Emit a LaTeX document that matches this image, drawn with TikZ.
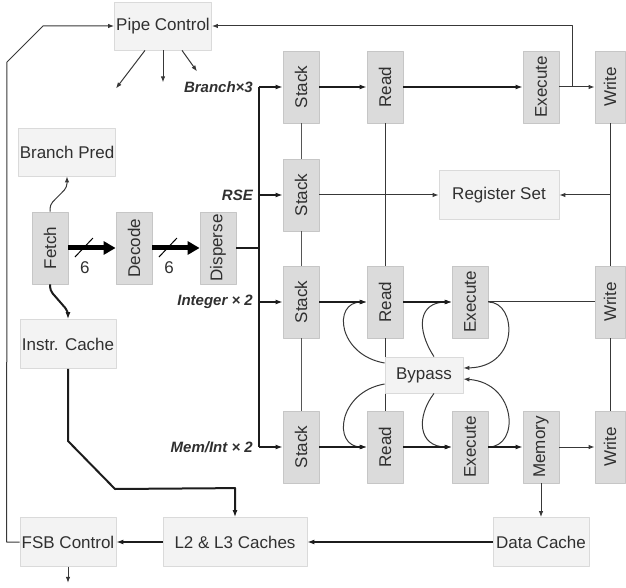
\documentclass[tikz,border=0pt]{standalone}
\usepackage{fontspec}
\usepackage{graphicx}
\setmainfont{Liberation Sans}
\usetikzlibrary{arrows.meta}
\definecolor{stagefill}{HTML}{DBDBDB}
\definecolor{stageline}{HTML}{C6C6C6}
\definecolor{lightfill}{HTML}{F3F3F3}
\definecolor{lightline}{HTML}{DADADA}
\definecolor{textgray}{HTML}{303030}
\definecolor{linedark}{HTML}{1C1C1C}
\definecolor{linegray}{HTML}{383838}
\newcommand{\stagefont}{\fontsize{17}{20}\selectfont}
\newcommand{\buslabelfont}{\fontsize{15}{18}\selectfont\bfseries\itshape}
\newcommand{\vlabel}[1]{\rotatebox{90}{#1}}
\begin{document}
\begin{tikzpicture}[x=1pt, y=1pt, line join=round,
    lightbox/.style={draw=lightline, fill=lightfill, line width=0.8pt, minimum width=96,
      minimum height=49, inner sep=1pt, text=textgray, font=\stagefont},
    stage/.style={draw=stageline, fill=stagefill, line width=0.8pt, minimum width=36,
      minimum height=72, inner sep=0pt, text=textgray, font=\stagefont},
    buslabel/.style={anchor=east, inner sep=0pt, text=textgray, font=\buslabelfont},
    countlabel/.style={inner sep=0pt, text=textgray, font=\stagefont},
    thinarrow/.style={draw=linegray, line width=1pt, -{Latex[length=6pt,width=4.5pt]}},
    thickarrow/.style={draw=linedark, line width=2pt, -{Latex[length=7pt,width=5pt]}},
    thinline/.style={draw=linegray, line width=1pt},
    colline/.style={draw=linegray!85, line width=1pt},
    busline/.style={draw=linedark, line width=2.2pt},
    widebus/.style={draw=black, line width=5pt, -{Triangle[length=12pt,width=13pt]}},
    slashline/.style={draw=black, line width=1pt}]
  \useasboundingbox (0,0) rectangle (626,587);
  % --- front end -----------------------------------------------
  \node[lightbox, minimum width=97, minimum height=48] (pipe) at (163,561) {Pipe Control};
  \node[lightbox, minimum height=48] (bpred) at (67,435) {Branch Pred};
  \node[stage] (fetch) at (50,339) {\vlabel{Fetch}};
  \node[stage] (decode) at (134,339) {\vlabel{Decode}};
  \node[stage] (disperse) at (218,339) {\vlabel{Disperse}};
  \node[lightbox] (icache) at (68,243) {Instr. Cache};
  % --- memory side ---------------------------------------------
  \node[lightbox] (fsb) at (68,45) {FSB Control};
  \node[lightbox, minimum width=144] (l2) at (235,45) {L2 \& L3 Caches};
  \node[lightbox] (dcache) at (541,45) {Data Cache};
  \node[lightbox, minimum width=120] (regset) at (499,392) {Register Set};
  % --- pipeline stages -----------------------------------------
  \foreach \r/\y in {1/500,2/392,3/285,4/140}
    \node[stage] (stack\r) at (301,\y) {\vlabel{Stack}};
  \foreach \r/\y in {1/500,3/285,4/140}
    \node[stage] (read\r) at (385,\y) {\vlabel{Read}};
  \foreach \r/\y in {1/500,3/285,4/140}
    \node[stage, minimum width=30] (write\r) at (610,\y) {\vlabel{Write}};
  \node[stage] (exec1) at (541,500) {\vlabel{Execute}};
  \node[stage] (exec3) at (470,285) {\vlabel{Execute}};
  \node[stage] (exec4) at (470,140) {\vlabel{Execute}};
  \node[stage] (memory) at (541,140) {\vlabel{Memory}};
  % --- issue labels --------------------------------------------
  \node[buslabel] (lblbranch) at (253,500) {Branch×3};
  \node[buslabel] (lblrse) at (253,392) {RSE};
  \node[buslabel] (lblint) at (253,285) {Integer × 2};
  \node[buslabel] (lblmem) at (253,140) {Mem/Int × 2};
  % --- columns -------------------------------------------------
  \draw[colline] (stack1) -- (stack2);
  \draw[colline] (stack2) -- (stack3);
  \draw[colline] (stack3) -- (stack4);
  \draw[thinline] (read1) -- (read3);
  \draw[thinline] (read3) -- (read4);
  \draw[thinline] (write1) -- (write3);
  \draw[thinline] (write3) -- (write4);
  \draw[thinarrow] (write1 |- regset) -- (regset);
  % --- bypass --------------------------------------------------
  \node[lightbox, minimum width=78, minimum height=36] (bypass) at (424,212) {Bypass};
  \draw[thinarrow] (exec3.east) .. controls (517,285) and (520,220) .. ([yshift=7]bypass.east);
  \draw[thinarrow] ([yshift=12]bypass.west) .. controls (338,232) and (332,285) .. (read3.west);
  \draw[thinarrow] ([xshift=10]bypass.north) .. controls (416,258) and (418,285) .. (exec3.west);
  \draw[thinarrow] (exec4.east) .. controls (520,140) and (517,204) .. ([yshift=-4]bypass.east);
  \draw[thinarrow] ([yshift=-9]bypass.west) .. controls (338,195) and (332,140) .. (read4.west);
  \draw[thinarrow] ([xshift=10]bypass.south) .. controls (416,170) and (418,140) .. (exec4.west);
  % --- rows ----------------------------------------------------
  \draw[thickarrow] (stack1) -- (read1);
  \draw[thickarrow] (read1) -- (exec1);
  \draw[thinarrow] (exec1.east) -- coordinate[pos=0.36] (fb) (write1.west);
  \draw[thinarrow] (stack2) -- (regset);
  \draw[thickarrow] (stack3) -- (read3);
  \draw[thickarrow] (read3) -- (exec3);
  \draw[thinline] (exec3) -- (write3);
  \draw[thickarrow] (stack4) -- (read4);
  \draw[thickarrow] (read4) -- (exec4);
  \draw[thickarrow] (exec4) -- (memory);
  \draw[thinarrow] (memory) -- (write4);
  % --- issue bus -----------------------------------------------
  \coordinate (bustop) at (259,500);
  \coordinate (busbot) at (259,140);
  \draw[busline] (bustop) -- (busbot);
  \draw[busline] (disperse.east) -- (disperse.east -| bustop);
  \foreach \r in {1,...,4}
    \draw[thickarrow] (bustop |- stack\r.west) -- (stack\r.west);
  % --- fetch and decode ----------------------------------------
  \draw[widebus] (fetch.east) -- coordinate[pos=0.33] (sl1) (decode.west);
  \draw[slashline] (sl1) ++(-9,-9) -- ++(18,19);
  \node[countlabel] (cnt1) at ([xshift=1,yshift=-20]sl1) {6};
  \draw[widebus] (decode.east) -- coordinate[pos=0.33] (sl2) (disperse.west);
  \draw[slashline] (sl2) ++(-9,-9) -- ++(18,19);
  \node[countlabel] (cnt2) at ([xshift=1,yshift=-20]sl2) {6};
  \draw[thinarrow, rounded corners=4] (fetch.north) -- ++(0,7) -- ([yshift=-11]bpred.south) -- (bpred.south);
  \draw[thickarrow, rounded corners=4] (fetch.south) -- ++(0,-6) -- ([yshift=8]icache.north) -- (icache.north);
  % --- pipe control --------------------------------------------
  \draw[thinarrow] (fb) -- (fb |- pipe.east) -- (pipe.east);
  \draw[thinarrow] (fsb.west) -- ++(-13,0) -- (7,525) -- (43,561) -- (pipe.west);
  \draw[thinarrow] ([xshift=-18]pipe.south) -- ++(-29,-38);
  \draw[thinarrow] (pipe.south) -- ++(0,-32);
  \draw[thinarrow] ([xshift=19]pipe.south) -- ++(15,-21);
  % --- caches --------------------------------------------------
  \draw[thickarrow] (icache.south) -- (68,146) -- (115,98) -- ([yshift=29]l2.north) -- (l2.north);
  \draw[thickarrow] (l2) -- (fsb);
  \draw[thickarrow] (dcache) -- (l2);
  \draw[thinarrow] (memory) -- (dcache);
  \draw[thinarrow] (fsb.south) -- ++(0,-16);
\end{tikzpicture}
\end{document}
